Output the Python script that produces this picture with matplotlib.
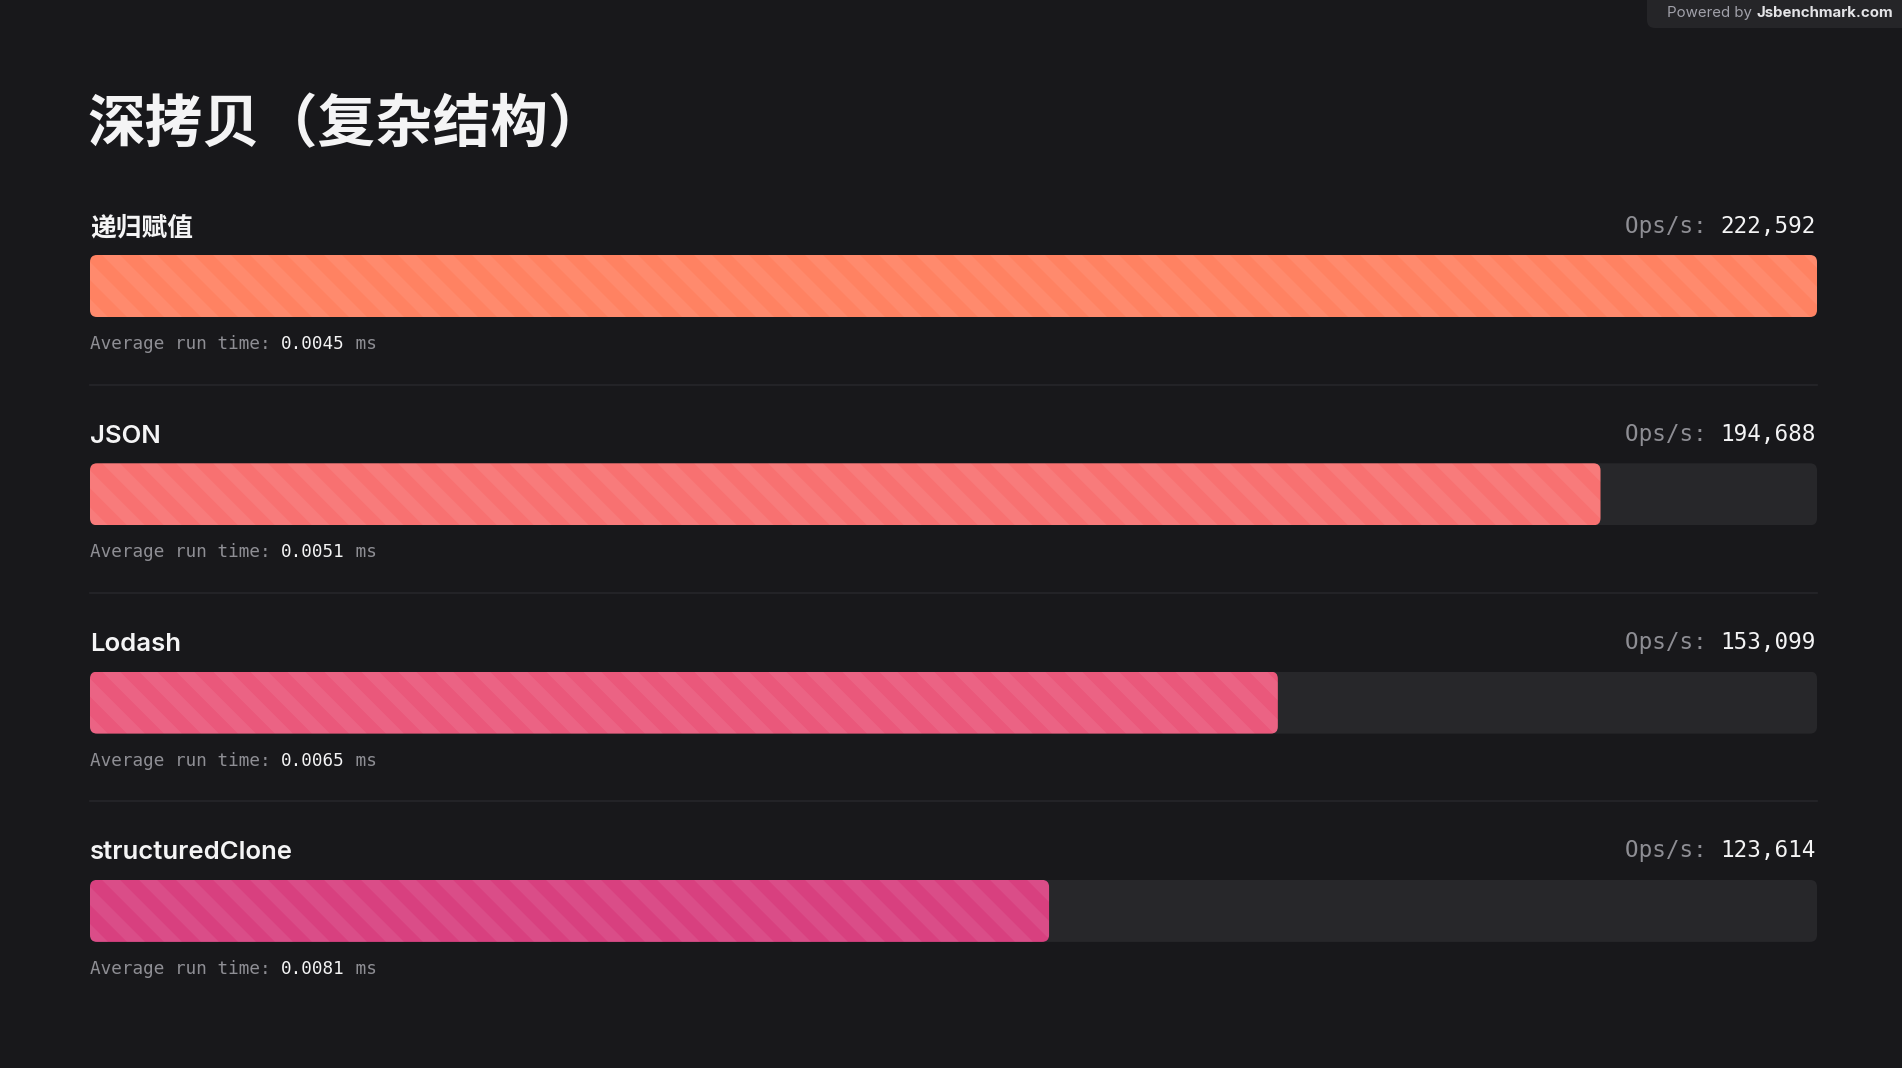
import matplotlib
matplotlib.use('Agg')
import matplotlib.pyplot as plt
from matplotlib.patches import FancyBboxPatch, Polygon

# Data
title = '深拷贝（复杂结构）'
names = ['递归赋值', 'JSON', 'Lodash', 'structuredClone']
ops = [222592, 194688, 153099, 123614]
avg_ms = ['0.0045', '0.0051', '0.0065', '0.0081']
colors = ['#ff8262', '#f87171', '#ea587b', '#d8407f']

BG = '#18181b'
TRACK = '#27272a'
WHITE = '#f4f4f5'
GRAY = '#8e8e94'

W, H = 1902, 1068
fig = plt.figure(figsize=(W / 100, H / 100), dpi=100, facecolor=BG)
ax0 = fig.add_axes([0, 0, 1, 1])
ax0.set_xlim(0, W)
ax0.set_ylim(H, 0)
ax0.axis('off')
ax0.set_facecolor(BG)

sans = ['Inter', 'Noto Sans CJK SC', 'DejaVu Sans']
mono = ['DejaVu Sans Mono']

left, right = 90, 1817
row0, step, bar_h = 255, 208.3, 62
radius = 7
vmax = max(ops)

# title
ax0.text(87, 125, title, fontsize=41.5, fontweight='bold', color=WHITE,
         va='center', ha='left', family=['Noto Sans CJK SC', 'DejaVu Sans'])

# badge
badge = FancyBboxPatch((1647, -20), 300, 48, boxstyle='round,pad=0,rounding_size=8',
                       fc='#252528', ec='none')
ax0.add_patch(badge)
ax0.text(1893, 13, 'Jsbenchmark.com', fontsize=10.8, fontweight='bold', color='#e4e4e7',
         ha='right', va='center', family=sans)
ax0.text(1752, 13, 'Powered by', fontsize=10.8, color='#a1a1aa',
         ha='right', va='center', family=sans)


def mono_w(fs):
    return 0.602 * fs * 100 / 72


for i, (name, v, t, c) in enumerate(zip(names, ops, avg_ms, colors)):
    top = row0 + i * step

    # labels
    ax0.text(left, top - 27, name, fontsize=18.5, fontweight='semibold', color=WHITE,
             ha='left', va='center', family=sans)
    fs = 16.3
    val = f'{v:,}'
    ax0.text(right - 1, top - 29, val, fontsize=fs, color=WHITE, ha='right',
             va='center', family=mono)
    ax0.text(right - 1 - len(val) * mono_w(fs), top - 29, 'Ops/s: ', fontsize=fs,
             color=GRAY, ha='right', va='center', family=mono)

    fs2 = 12.7
    pre = 'Average run time: '
    y_avg = top + 89
    ax0.text(left, y_avg, pre, fontsize=fs2, color=GRAY, ha='left',
             va='center', family=mono)
    ax0.text(left + len(pre) * mono_w(fs2), y_avg, t, fontsize=fs2, color=WHITE,
             ha='left', va='center', family=mono)
    ax0.text(left + (len(pre) + len(t)) * mono_w(fs2), y_avg, ' ms', fontsize=fs2,
             color=GRAY, ha='left', va='center', family=mono)

    if i < len(names) - 1:
        ax0.plot([left, right], [top + 129.5, top + 129.5], color='#26262a', lw=1.2)

    # bar axes
    ax = fig.add_axes([left / W, 1 - (top + bar_h) / H, (right - left) / W, bar_h / H])
    ax.set_xlim(0, vmax)
    ax.set_ylim(0, 1)
    ax.axis('off')
    r = radius * vmax / (right - left)
    asp = (radius / bar_h) / r
    track = FancyBboxPatch((0, 0), vmax, 1, boxstyle=f'round,pad=0,rounding_size={r}',
                           mutation_aspect=asp, fc=TRACK, ec='none')
    ax.add_patch(track)
    bar = FancyBboxPatch((0, 0), v, 1, boxstyle=f'round,pad=0,rounding_size={r}',
                         mutation_aspect=asp, fc=c, ec='none', zorder=2)
    ax.add_patch(bar)

    # diagonal stripes, in pixel space, clipped to the bar
    period, sw = 37, 18
    x = left - bar_h - period
    while x < right + period:
        poly = Polygon([(x, top), (x + sw, top), (x + sw + bar_h, top + bar_h),
                        (x + bar_h, top + bar_h)], closed=True, fc='white', ec='none',
                       alpha=0.07, transform=ax0.transData, zorder=3)
        ax.add_patch(poly)
        poly.set_clip_path(bar)
        x += period

fig.savefig('out.png', dpi=100, facecolor=BG)
